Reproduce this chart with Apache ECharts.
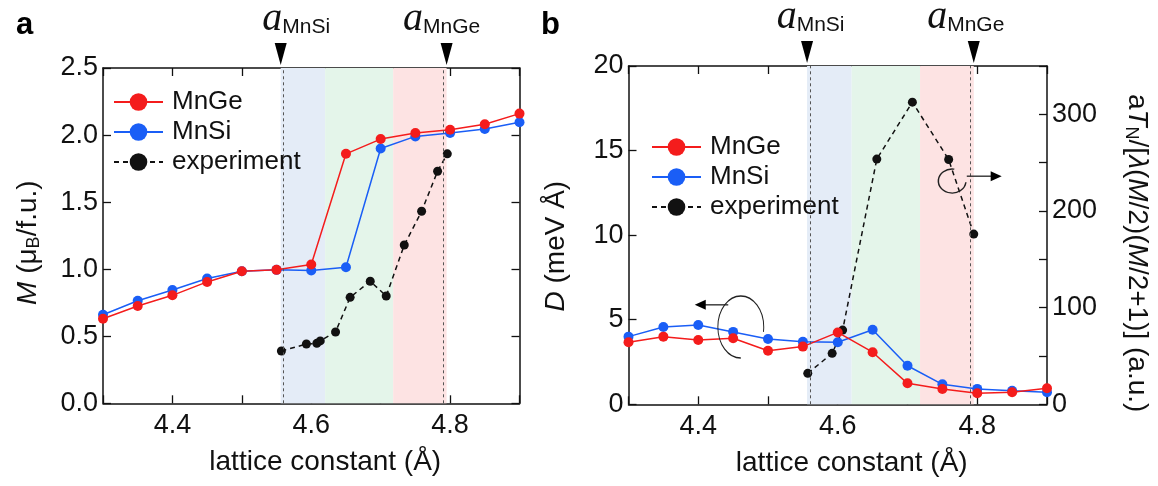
<!DOCTYPE html>
<html><head><meta charset="utf-8">
<script src="https://cdn.jsdelivr.net/npm/echarts@6/dist/echarts.min.js"></script>
<style>html,body{margin:0;padding:0;background:#fff}#c{width:1158px;height:486px}</style>
</head><body><div id="c"></div>
<script>
// ---------- data ----------
const latticeX = [4.30, 4.35, 4.40, 4.45, 4.50, 4.55, 4.60, 4.65, 4.70, 4.75, 4.80, 4.85, 4.90];
// panel a : magnetic moment M (muB / f.u.)
const mMnGe = [0.63, 0.725, 0.805, 0.905, 0.985, 0.995, 1.035, 1.86, 1.97, 2.015, 2.04, 2.08, 2.16];
const mMnSi = [0.66, 0.765, 0.845, 0.93, 0.985, 0.995, 0.99, 1.015, 1.90, 1.99, 2.015, 2.045, 2.095];
const mExpX = [4.557, 4.593, 4.608, 4.613, 4.635, 4.656, 4.685, 4.708, 4.734, 4.759, 4.782, 4.796];
const mExpY = [0.39, 0.442, 0.447, 0.465, 0.532, 0.79, 0.91, 0.80, 1.18, 1.432, 1.73, 1.86];
// panel b : D (meV Å) and experiment (right axis, a.u.)
const dMnGe = [3.67, 4.0, 3.8, 3.9, 3.17, 3.41, 4.25, 3.08, 1.24, 0.9, 0.65, 0.71, 0.95];
const dMnSi = [4.0, 4.57, 4.69, 4.28, 3.86, 3.7, 3.67, 4.41, 2.28, 1.18, 0.91, 0.8, 0.71];
const tExpX = [4.557, 4.592, 4.607, 4.656, 4.707, 4.759, 4.795];
const tExpY = [32, 52.7, 76.8, 253.7, 312.6, 253.3, 176.1];
// reference lattice constants and shaded regions
const aMnSi = 4.556, aMnGe = 4.795;
const regionBounds = [4.556, 4.620, 4.718, 4.795];
const regionColors = ['#e4ecf7', '#e4f5ea', '#fde3e3'];
// tick labels
const xTickLabels = ['4.4', '4.6', '4.8'];
const rightTickLabels = ['0', '100', '200', '300'];

// ---------- styles ----------
const font = '"Liberation Sans", Arial, sans-serif';
const ink = '#111';
const RED = '#f41c1c', BLUE = '#1a5ef6', BLACK = '#111';
const TICK_FS = 27, NAME_FS = 28, LEG_FS = 26;
const pairs = (xs, ys) => xs.map((x, i) => [x, ys[i]]);

const tickStyle = { show: true, inside: true, length: 8, lineStyle: { color: ink, width: 1.3 } };
const lineAx = { show: true, onZero: false, lineStyle: { color: ink, width: 1.5 } };
const labStyle = { fontSize: TICK_FS, color: ink, fontFamily: font };

function xAxes(grid) {
  return [{
    gridIndex: grid, type: 'value', min: 4.3, max: 4.9, interval: 0.1, position: 'bottom',
    name: 'lattice constant (Å)', nameLocation: 'middle', nameGap: 45,
    nameTextStyle: { fontSize: NAME_FS, color: ink, fontFamily: font, padding: [0, 0, 0, 28] },
    axisLine: lineAx, axisTick: tickStyle, splitLine: { show: false },
    axisLabel: Object.assign({ margin: 9, showMinLabel: true, showMaxLabel: true,
      formatter: v => { const s = (+v).toFixed(1); return xTickLabels.includes(s) ? s : ''; } }, labStyle)
  }, {
    gridIndex: grid, type: 'value', min: 4.3, max: 4.9, interval: 0.1, position: 'top',
    axisLine: lineAx, axisTick: tickStyle, splitLine: { show: false }, axisLabel: { show: false }
  }];
}

const regionData = [0, 1, 2].map(i => [
  { xAxis: regionBounds[i], itemStyle: { color: regionColors[i] } },
  { xAxis: regionBounds[i + 1] }
]);

function markers(yTop, offSi, offGe) {
  return {
    markArea: { silent: true, data: regionData, itemStyle: { opacity: 1 } },
    markLine: {
      silent: true, symbol: 'none', label: { show: false },
      lineStyle: { color: '#555', type: [3, 3], width: 1 },
      data: [{ xAxis: aMnSi }, { xAxis: aMnGe }]
    },
    markPoint: {
      silent: true, symbol: 'path://M0 0L12 0L6 22Z', symbolSize: [12, 22], symbolOffset: [0, -14],
      itemStyle: { color: '#000' },
      label: {
        show: true, position: 'top', distance: 4,
        formatter: p => '{a|a}{s|' + p.name + '}',
        rich: {
          a: { fontFamily: '"Liberation Serif", "Times New Roman", serif', fontStyle: 'italic', fontSize: 40, color: ink },
          s: { fontFamily: font, fontSize: 21, color: ink, padding: [16, 0, 0, 0] }
        }
      },
      data: [
        { name: 'MnSi', coord: [aMnSi, yTop], label: { offset: [offSi, 0] } },
        { name: 'MnGe', coord: [aMnGe, yTop], label: { offset: [offGe, 0] } }
      ]
    }
  };
}

function lineSeries(name, color, data, xi, yi, extra) {
  return Object.assign({
    name, type: 'line', xAxisIndex: xi, yAxisIndex: yi, data,
    symbol: 'circle', symbolSize: 10, showSymbol: true,
    itemStyle: { color }, lineStyle: { color, width: 1.5 }, z: 3
  }, extra || {});
}

const chart = echarts.init(document.getElementById('c'), null, { renderer: 'canvas' });
const legendBase = {
  data: ['MnGe', 'MnSi', 'experiment'], orient: 'vertical', selectedMode: false,
  itemWidth: 49, itemHeight: 22, itemGap: 4,
  textStyle: { fontSize: LEG_FS, color: ink, fontFamily: font, padding: [0, 0, 0, 4] }
};

chart.setOption({
  animation: false,
  backgroundColor: '#fff',
  textStyle: { fontFamily: font },
  grid: [
    { left: 103, right: 638.5, top: 68, bottom: 82.7, outerBoundsMode: 'none', containLabel: false },
    { left: 628.5, right: 111, top: 66, bottom: 81.7, outerBoundsMode: 'none', containLabel: false }
  ],
  legend: [
    Object.assign({}, legendBase, { left: 108, top: 84 }),
    Object.assign({}, legendBase, { left: 646, top: 129 })
  ],
  xAxis: [...xAxes(0), ...xAxes(1)],
  yAxis: [
    { gridIndex: 0, type: 'value', min: 0, max: 2.5, interval: 0.5, position: 'left',
      name: '{i|M} (\u03bc{sub|B}/f.u.)', nameLocation: 'middle', nameGap: 60,
      nameTextStyle: { fontSize: NAME_FS, color: ink, fontFamily: font, padding: [0, 14, 0, 0],
        rich: { i: { fontStyle: 'italic', fontSize: NAME_FS, fontFamily: font, color: ink },
                sub: { fontSize: 18, fontFamily: font, color: ink, padding: [12, 0, 0, 0] } } },
      axisLine: lineAx, axisTick: tickStyle, splitLine: { show: false },
      axisLabel: Object.assign({ margin: 5, formatter: v => (+v).toFixed(1) }, labStyle) },
    { gridIndex: 0, type: 'value', min: 0, max: 2.5, interval: 0.5, position: 'right',
      axisLine: lineAx, axisTick: tickStyle, splitLine: { show: false }, axisLabel: { show: false } },
    { gridIndex: 1, type: 'value', min: 0, max: 20, interval: 5, position: 'left',
      name: '{i|D} (meV Å)', nameLocation: 'middle', nameGap: 58,
      nameTextStyle: { fontSize: NAME_FS, color: ink, fontFamily: font, padding: [0, 22, 0, 0],
        rich: { i: { fontStyle: 'italic', fontSize: NAME_FS, fontFamily: font, color: ink } } },
      axisLine: lineAx, axisTick: tickStyle, splitLine: { show: false },
      axisLabel: Object.assign({ margin: 5 }, labStyle) },
    { gridIndex: 1, type: 'value', min: 0, max: 350, interval: 50, position: 'right',
      name: 'a{i|T}{sub|N}/[{i|\u03bb}({i|M}/2)({i|M}/2+1)] (a.u.)', nameLocation: 'middle', nameGap: 75, nameRotate: -90,
      nameTextStyle: { fontSize: NAME_FS, color: ink, fontFamily: font, padding: [0, 0, 0, 36],
        rich: { i: { fontStyle: 'italic', fontSize: NAME_FS, fontFamily: font, color: ink },
                sub: { fontSize: 18, fontFamily: font, color: ink, padding: [12, 0, 0, 0] } } },
      axisLine: lineAx, axisTick: tickStyle, splitLine: { show: false },
      axisLabel: Object.assign({ margin: 5, showMaxLabel: true,
        formatter: v => rightTickLabels.includes(String(v)) ? String(v) : '' }, labStyle) }
  ],
  series: [
    lineSeries('MnGe', RED, pairs(latticeX, mMnGe), 0, 0, Object.assign({ z: 4 }, markers(2.5, 15.5, -5))),
    lineSeries('MnSi', BLUE, pairs(latticeX, mMnSi), 0, 0),
    lineSeries('experiment', BLACK, pairs(mExpX, mExpY), 0, 0,
      { symbolSize: 9, lineStyle: { color: BLACK, width: 1.5, type: [5, 4] } }),
    lineSeries('MnGe', RED, pairs(latticeX, dMnGe), 2, 2, Object.assign({ z: 4 }, markers(20, 3.5, -8))),
    lineSeries('MnSi', BLUE, pairs(latticeX, dMnSi), 2, 2),
    lineSeries('experiment', BLACK, pairs(tExpX, tExpY), 2, 3,
      { symbolSize: 9, lineStyle: { color: BLACK, width: 1.5, type: [5, 4] } })
  ]
});

// ---------- annotations (anchored to data space) ----------
const P = (si, x, y) => chart.convertToPixel({ seriesIndex: si }, [x, y]);
const bigC = P(3, 4.461, 4.57);
const arrL0 = P(3, 4.443, 5.88), arrL1 = P(3, 4.395, 5.88);
const smallC = P(5, 4.764, 231);
const arrR0 = P(5, 4.785, 236), arrR1 = P(5, 4.835, 236);
const annStroke = { stroke: '#222', lineWidth: 1.3, fill: null };
chart.setOption({
  graphic: [
    { type: 'text', left: 16, top: 10, style: { text: 'a', font: 'bold 31px ' + font, fill: '#000' } },
    { type: 'text', left: 541, top: 10, style: { text: 'b', font: 'bold 31px ' + font, fill: '#000' } },
    { type: 'arc', x: bigC[0], y: bigC[1], scaleX: 0.74, silent: true,
      shape: { cx: 0, cy: 0, r: 31, startAngle: Math.PI * 0.5, endAngle: Math.PI * 2.05, clockwise: true },
      style: annStroke, z: 10 },
    { type: 'line', silent: true, shape: { x1: arrL0[0], y1: arrL0[1], x2: arrL1[0] + 8, y2: arrL1[1] },
      style: { stroke: '#222', lineWidth: 1.3 }, z: 10 },
    { type: 'polygon', silent: true, shape: { points: [[arrL1[0], arrL1[1]], [arrL1[0] + 11, arrL1[1] - 5], [arrL1[0] + 11, arrL1[1] + 5]] },
      style: { fill: '#000' }, z: 10 },
    { type: 'arc', x: smallC[0], y: smallC[1], scaleX: 1.15, silent: true,
      shape: { cx: 0, cy: 0, r: 12, startAngle: 0.1, endAngle: Math.PI * 1.55, clockwise: true },
      style: annStroke, z: 10 },
    { type: 'line', silent: true, shape: { x1: arrR0[0], y1: arrR0[1], x2: arrR1[0] - 8, y2: arrR1[1] },
      style: { stroke: '#222', lineWidth: 1.3 }, z: 10 },
    { type: 'polygon', silent: true, shape: { points: [[arrR1[0], arrR1[1]], [arrR1[0] - 11, arrR1[1] - 5], [arrR1[0] - 11, arrR1[1] + 5]] },
      style: { fill: '#000' }, z: 10 }
  ]
});
</script></body></html>
